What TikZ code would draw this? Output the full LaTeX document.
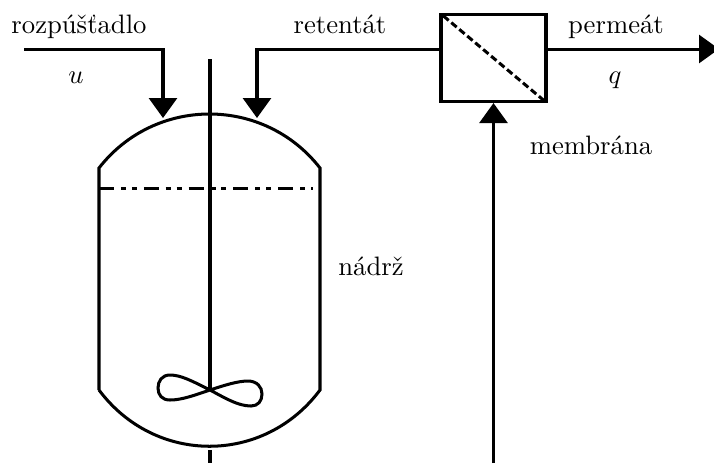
\documentclass[tikz,border=0pt]{standalone}
\usetikzlibrary{arrows.meta,calc}
\tikzset{
  flow/.style={line width=1.13pt, -{Triangle[width=10.5pt,length=7.5pt]}},
  pipe/.style={line width=1.13pt},
  label/.style={inner sep=0pt, anchor=base}
}
\begin{document}
\begin{tikzpicture}[x=0.375pt, y=-0.375pt]
\useasboundingbox (0,0) rectangle (714,463);
% tank
\draw[pipe] (99,390) -- (99,168) .. controls (155,96) and (264,96) .. (320,168) -- (320,390)
  .. controls (264,465) and (155,465) .. (99,390);
\draw[pipe, dash pattern=on 5.6pt off 2.6pt on 1.9pt off 2.2pt on 1.9pt off 2.6pt] (99,188) -- (313,188);
% stirrer
\coordinate (shafttop) at (210,59);
\coordinate (hub) at (210,390);
\draw[pipe] (shafttop) -- (hub);
\draw[pipe] (hub) .. controls (192,381) and (181,375) .. (170,375) .. controls (162,375) and (158,381) .. (158,388)
  .. controls (158,395) and (162,400) .. (170,400) .. controls (182,400) and (195,395) .. (hub)
  .. controls (225,385) and (238,381) .. (248,381) .. controls (257,381) and (262,387) .. (262,394)
  .. controls (262,401) and (258,406) .. (251,406) .. controls (238,406) and (225,398) .. (hub);
\coordinate (drain) at (210,450);
\coordinate (drainend) at (210,463);
\draw[pipe] (drain) -- (drainend);
% membrane
\node[draw, line width=1.2pt, minimum width=39.4pt, minimum height=32.6pt, inner sep=0pt] (memb) at (493.5,58) {};
\draw[pipe, dash pattern=on 2.6pt off 1.3pt] ($(memb.north west)+(4,3)$) -- ($(memb.south east)+(-3,-2)$);
% streams
\coordinate (feedin) at (24,49);
\coordinate (feed) at (163,118);
\coordinate (ret) at (257,118);
\coordinate (permout) at (719,49);
\coordinate (pump) at (493.5,463);
\draw[flow] (feedin) -| (feed);
\draw[flow] (memb.west |- feedin) -| (ret);
\draw[flow] (memb.east |- feedin) -- (permout);
\draw[flow] (pump) -- (memb.south);
% labels
\node[label] (lrozp) at (79,33) {rozpúšťadlo};
\node[label] (lu) at (76,83) {$u$};
\node[label] (lret) at (340,33) {retentát};
\node[label] (lperm) at (616,33) {permeát};
\node[label] (lq) at (615,83) {$q$};
\node[label] (lmemb) at (591,154) {membrána};
\node[label] (lnadrz) at (371,275) {nádrž};
\end{tikzpicture}
\end{document}
